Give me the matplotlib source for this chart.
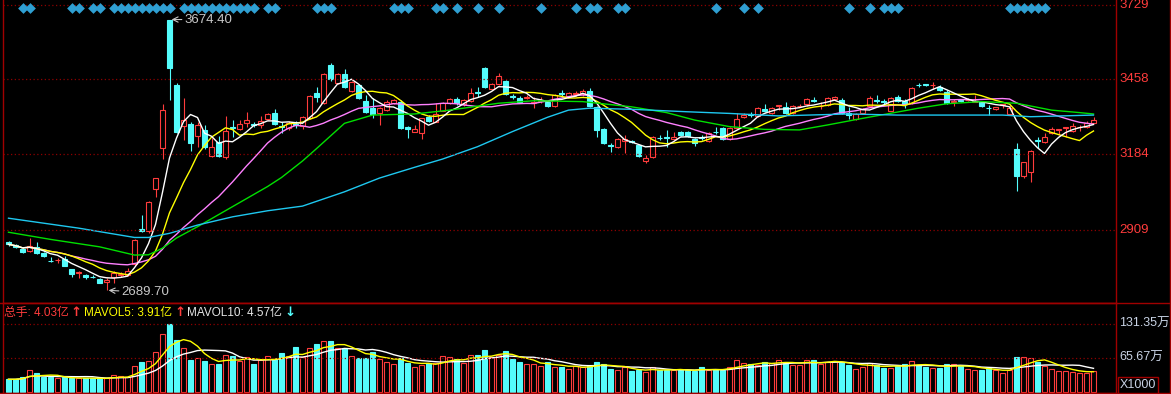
import matplotlib
matplotlib.use("Agg")
import matplotlib.pyplot as plt
import numpy as np
import pandas as pd
from matplotlib.lines import Line2D

plt.rcParams['font.family'] = ['Liberation Sans', 'Noto Sans CJK SC', 'DejaVu Sans']

# daily candles (index data)
opens = [2866, 2855, 2840, 2832, 2848, 2824, 2797, 2799, 2803, 2767,
         2754, 2745, 2740, 2731, 2720, 2737, 2745, 2745, 2784, 2912,
         2906, 3059, 3206, 3674, 3436, 3287, 3295, 3252, 3273, 3179,
         3228, 3176, 3283, 3275, 3297, 3293, 3291, 3312, 3333, 3286,
         3279, 3295, 3287, 3315, 3406, 3370, 3509, 3443, 3476, 3416,
         3436, 3378, 3354, 3336, 3346, 3370, 3376, 3285, 3267, 3261,
         3319, 3303, 3343, 3372, 3384, 3367, 3379, 3410, 3497, 3423,
         3440, 3450, 3398, 3388, 3390, 3371, 3378, 3376, 3361, 3408,
         3396, 3404, 3402, 3414, 3356, 3275, 3217, 3212, 3233, 3233,
         3218, 3160, 3173, 3245, 3246, 3239, 3265, 3265, 3241, 3246,
         3234, 3267, 3279, 3239, 3279, 3321, 3331, 3325, 3350, 3336,
         3360, 3357, 3333, 3359, 3366, 3381, 3359, 3364, 3384, 3382,
         3336, 3312, 3333, 3361, 3381, 3379, 3343, 3392, 3379, 3370,
         3437, 3440, 3435, 3430, 3412, 3375, 3381, 3381, 3375, 3373,
         3353, 3349, 3365, 3330, 3204, 3105, 3121, 3236, 3230, 3261,
         3273, 3281, 3270, 3282, 3283, 3299]
highs = [2870, 2860, 2846, 2880, 2867, 2830, 2812, 2808, 2815, 2769,
         2759, 2748, 2745, 2735, 2733, 2761, 2755, 2770, 2876, 2963,
         3014, 3100, 3367, 3674.4, 3445, 3388, 3303, 3303, 3291, 3243,
         3251, 3324, 3309, 3309, 3339, 3300, 3325, 3335, 3349, 3303,
         3305, 3305, 3322, 3400, 3428, 3480, 3517, 3480, 3493, 3452,
         3440, 3400, 3388, 3358, 3382, 3386, 3380, 3288, 3291, 3318,
         3326, 3370, 3376, 3390, 3394, 3386, 3424, 3430, 3502, 3444,
         3479, 3455, 3405, 3395, 3400, 3392, 3392, 3380, 3404, 3418,
         3412, 3415, 3420, 3424, 3360, 3280, 3227, 3245, 3255, 3238,
         3222, 3182, 3252, 3255, 3273, 3267, 3270, 3269, 3245, 3255,
         3267, 3285, 3283, 3283, 3333, 3333, 3338, 3358, 3367, 3358,
         3363, 3373, 3364, 3366, 3390, 3393, 3375, 3392, 3398, 3390,
         3357, 3334, 3352, 3396, 3400, 3384, 3392, 3400, 3385, 3428,
         3445, 3441, 3448, 3436, 3418, 3387, 3386, 3388, 3400, 3376,
         3364, 3358, 3368, 3364, 3227, 3158, 3199, 3248, 3261, 3283,
         3277, 3285, 3297, 3291, 3305, 3319]
lows = [2852, 2843, 2824, 2828, 2822, 2812, 2794, 2788, 2777, 2739,
        2733, 2730, 2735, 2716, 2689.7, 2718, 2740, 2742, 2778, 2902,
        2897, 3030, 3166, 3382, 3262, 3236, 3197, 3212, 3205, 3176,
        3176, 3166, 3248, 3271, 3285, 3285, 3280, 3308, 3292, 3263,
        3272, 3280, 3275, 3312, 3376, 3366, 3452, 3440, 3427, 3412,
        3384, 3336, 3315, 3291, 3342, 3366, 3276, 3243, 3265, 3239,
        3302, 3300, 3340, 3368, 3364, 3360, 3375, 3394, 3424, 3420,
        3436, 3400, 3387, 3370, 3386, 3354, 3372, 3358, 3358, 3394,
        3392, 3397, 3398, 3357, 3248, 3220, 3194, 3208, 3188, 3224,
        3175, 3152, 3170, 3238, 3212, 3236, 3250, 3248, 3215, 3235,
        3230, 3257, 3237, 3236, 3276, 3316, 3320, 3321, 3339, 3332,
        3346, 3330, 3330, 3355, 3360, 3375, 3348, 3360, 3380, 3330,
        3312, 3309, 3330, 3358, 3372, 3369, 3340, 3376, 3353, 3366,
        3428, 3431, 3421, 3413, 3367, 3360, 3375, 3377, 3374, 3355,
        3327, 3346, 3352, 3327, 3052, 3097, 3084, 3206, 3224, 3258,
        3255, 3248, 3266, 3270, 3280, 3297]
closes = [2857, 2847, 2829, 2852, 2824, 2815, 2795, 2801, 2779, 2749,
          2758, 2737, 2737, 2718, 2727, 2752, 2749, 2760, 2873, 2905,
          3011, 3097, 3345, 3497, 3267, 3309, 3227, 3291, 3212, 3211,
          3179, 3269, 3279, 3295, 3308, 3290, 3306, 3330, 3295, 3283,
          3297, 3292, 3319, 3396, 3394, 3476, 3457, 3476, 3430, 3448,
          3388, 3339, 3331, 3354, 3376, 3382, 3279, 3275, 3275, 3315,
          3307, 3331, 3370, 3384, 3372, 3382, 3408, 3406, 3428, 3440,
          3469, 3404, 3394, 3373, 3393, 3373, 3380, 3361, 3400, 3405,
          3406, 3406, 3414, 3360, 3273, 3224, 3214, 3239, 3239, 3230,
          3179, 3170, 3248, 3242, 3243, 3248, 3255, 3252, 3224, 3244,
          3261, 3265, 3240, 3279, 3312, 3327, 3329, 3354, 3343, 3354,
          3362, 3333, 3360, 3361, 3384, 3379, 3361, 3388, 3394, 3333,
          3327, 3331, 3348, 3388, 3379, 3373, 3388, 3379, 3366, 3424,
          3435, 3437, 3437, 3418, 3370, 3377, 3379, 3383, 3377, 3360,
          3351, 3355, 3367, 3352, 3105, 3155, 3196, 3233, 3248, 3275,
          3276, 3284, 3287, 3284, 3299, 3309]
# volume, unit: 万手 x1000
volumes = [24.5, 24.5, 28.3, 42.5, 36.0, 28.3, 28.3, 26.4, 28.3, 26.4,
           26.4, 26.4, 26.4, 26.4, 26.4, 32.2, 30.9, 28.3, 50.2, 57.9,
           59.2, 77.9, 112.0, 131.35, 100.4, 84.3, 61.8, 65.0, 59.9, 54.1,
           54.1, 71.4, 69.5, 59.9, 66.9, 54.1, 61.8, 69.5, 63.1, 75.9,
           69.5, 86.9, 66.9, 84.3, 92.0, 98.5, 98.5, 84.3, 84.3, 69.5,
           66.3, 66.3, 77.2, 63.1, 57.9, 54.1, 65.0, 56.6, 48.3, 52.1,
           55.3, 55.3, 69.5, 67.6, 63.1, 55.3, 71.4, 71.4, 81.1, 66.9,
           71.4, 79.2, 63.7, 57.9, 54.1, 54.1, 50.2, 57.9, 48.3, 48.3,
           44.4, 50.2, 47.6, 52.1, 57.9, 54.1, 44.4, 42.5, 47.6, 40.6,
           42.5, 38.6, 47.6, 42.5, 42.5, 42.5, 42.5, 42.5, 40.6, 48.3,
           42.5, 42.5, 42.5, 48.3, 61.8, 56.0, 54.1, 52.1, 57.9, 55.3,
           61.8, 57.9, 52.1, 52.1, 61.8, 61.8, 54.1, 57.9, 59.9, 57.9,
           52.1, 44.4, 48.3, 55.3, 52.1, 47.0, 46.3, 50.2, 54.1, 59.9,
           52.1, 48.3, 46.3, 47.0, 54.1, 54.1, 50.2, 44.4, 42.5, 42.5,
           46.3, 42.5, 36.7, 42.5, 67.6, 67.6, 66.0, 58.0, 51.0, 45.0,
           41.5, 41.2, 39.0, 37.5, 37.5, 40.3]

# long moving averages (history before the window is not shown)
ma30_idx = [0, 6, 13, 18, 20, 22, 24, 27, 32, 37, 39, 42, 44, 48, 52, 58, 63, 70,
            75, 82, 89, 94, 98, 103, 108, 113, 117, 122, 127, 130, 134, 139, 144,
            146, 149, 153, 155]
ma30_val = [2901, 2875, 2848, 2818, 2819, 2843, 2880, 2921, 2994, 3067, 3100, 3160,
            3205, 3297, 3327, 3331, 3345, 3370, 3379, 3376, 3357, 3336, 3309, 3285,
            3275, 3273, 3291, 3315, 3338, 3352, 3368, 3376, 3370, 3360, 3345, 3336, 3331]
ma60_idx = [0, 10, 18, 20, 23, 27, 32, 37, 42, 48, 53, 58, 62, 67, 72, 77, 80, 83,
            89, 97, 103, 110, 120, 127, 142, 146, 155]
ma60_val = [2952, 2916, 2882, 2882, 2897, 2927, 2957, 2979, 2996, 3048, 3098, 3137,
            3167, 3212, 3267, 3319, 3345, 3352, 3348, 3339, 3333, 3324, 3331, 3327,
            3327, 3321, 3327]

# blue diamond signals along the top
signal_idx = [2, 3, 9, 10, 12, 13, 15, 16, 17, 18, 19, 20, 21, 22, 23,
              25, 26, 27, 28, 29, 30, 31, 32, 33, 34, 35, 37, 38, 44, 45, 46,
              55, 56, 57, 61, 62, 64, 67, 70, 76, 81, 83, 84, 87, 88,
              101, 105, 107, 120, 123, 125, 126, 127, 143, 144, 145, 146, 147, 148]

price_ticks = [3729, 3458, 3184, 2909]

RED = '#ff3c3c'
CYAN = '#54fcfc'
GRID = '#8c0000'
FRAME = '#a00000'
LABEL = '#c8d2e4'

W, H = 1171, 394
fig = plt.figure(figsize=(W / 100, H / 100), dpi=100, facecolor='black')
ax = fig.add_axes([3 / W, 1 - 303 / H, 1113 / W, 303 / H], facecolor='black')
axv = fig.add_axes([3 / W, 1 / H, 1113 / W, 90 / H], facecolor='black', sharex=ax)

x = np.arange(len(closes))
o, h, l, c = (np.array(a, dtype=float) for a in (opens, highs, lows, closes))
up = c >= o
top = np.maximum(o, c)
bot = np.minimum(o, c)
cols = np.where(up, RED, CYAN)
faces = np.where(up, 'black', CYAN)

# candles
ax.vlines(x, top, h, colors=cols, lw=0.8)
ax.vlines(x, l, bot, colors=cols, lw=0.8)
ax.bar(x, np.maximum(top - bot, 0.8), bottom=bot, width=0.7,
       color=faces, edgecolor=cols, linewidth=0.8)

# moving averages
s = pd.Series(closes, dtype=float)
for n, col in ((20, '#ff80ff'), (10, '#ffff00'), (5, 'white')):
    ax.plot(x, s.rolling(n, min_periods=1).mean(), color=col, lw=1)
ax.plot(ma30_idx, ma30_val, color='#00e000', lw=1)
ax.plot(ma60_idx, ma60_val, color='#1ec8f0', lw=1)

# grid + right labels
for p in price_ticks:
    ax.axhline(p, color=GRID, lw=0.9, ls=(0, (1, 2)))
    ax.text(1.003, p, str(p), transform=ax.get_yaxis_transform(), color=RED,
            fontsize=9.5, va='center', ha='left')

# signals
ax.scatter(signal_idx, np.full(len(signal_idx), 1 - 8 / 303), marker='D', s=30,
           color='#2f9fd2', linewidths=0, transform=ax.get_xaxis_transform(), zorder=5)

# high / low marks
ih, il = int(np.argmax(h)), int(np.argmin(l))
arrow = dict(arrowstyle='->', color='#c8c8c8', lw=0.8, shrinkA=0, shrinkB=0)
ax.annotate(f'{h[ih]:.2f}', xy=(ih + 0.3, h[ih]), xytext=(13, 0), textcoords='offset pixels',
            color='#c8c8c8', fontsize=9.5, va='center', ha='left', arrowprops=arrow)
ax.annotate(f'{l[il]:.2f}', xy=(il + 0.3, l[il]), xytext=(13, -2), textcoords='offset pixels',
            color='#c8c8c8', fontsize=9.5, va='center', ha='left', arrowprops=arrow)

ax.set_xlim((3 - 8.5) / 7, (1116 - 8.5) / 7)
ax.set_ylim(3745.4 - 3.636 * 303, 3745.4)

# volume panel
v = np.array(volumes)
axv.bar(x, v, width=0.7, color=faces, edgecolor=cols, linewidth=0.8)
sv = pd.Series(v)
mv5 = sv.rolling(5, min_periods=1).mean()
mv10 = sv.rolling(10, min_periods=1).mean()
axv.plot(x, mv10, color='white', lw=1)
axv.plot(x, mv5, color='#ffff00', lw=1)
vmax = v.max()
for lv in (vmax, vmax / 2):
    axv.axhline(lv, color=GRID, lw=0.9, ls=(0, (1, 2)))
    axv.text(1.003, lv, f'{lv:.2f}万', transform=axv.get_yaxis_transform(), color=LABEL,
             fontsize=9, va='center', ha='left')
axv.set_ylim(-1.93, 171.9)

parts = [(f'总手: {v[-1] / 10:.2f}亿', RED, 8.5, 'normal'), ('↑', RED, 9.5, 'bold'),
         (f'MAVOL5: {mv5.iloc[-1] / 10:.2f}亿', '#ffff00', 8.5, 'normal'), ('↑', RED, 9.5, 'bold'),
         (f'MAVOL10: {mv10.iloc[-1] / 10:.2f}亿', '#e6e6e6', 8.5, 'normal'), ('↓', CYAN, 9.5, 'bold')]
t = axv.text(0.001, (393 - 313) / 90, parts[0][0], color=parts[0][1], fontsize=parts[0][2],
             transform=axv.transAxes, va='center', ha='left')
for txt, col, fs, wt in parts[1:]:
    t = axv.annotate(txt, xy=(1, 0.5), xycoords=t, xytext=(2, 0), textcoords='offset pixels',
                     color=col, fontsize=fs, fontweight=wt, va='center', ha='left',
                     family=['DejaVu Sans'] if wt == 'bold' else None)

fig.text(1120 / W, 1 - 385 / H, 'X1000', color=LABEL, fontsize=9, va='center', ha='left',
         bbox=dict(boxstyle='square,pad=0.15', fc='black', ec=FRAME, lw=1))

for a in (ax, axv):
    a.set_xticks([])
    a.set_yticks([])
    for sp in a.spines.values():
        sp.set_color(FRAME)
        sp.set_linewidth(1)
ax.spines['top'].set_visible(False)

fig.add_artist(Line2D([1169.5 / W] * 2, [0, 1], color=FRAME, lw=1, transform=fig.transFigure))
fig.add_artist(Line2D([0, 1], [1 - 303 / H] * 2, color=FRAME, lw=1, transform=fig.transFigure))
fig.add_artist(Line2D([0, 1], [1 - 393 / H] * 2, color=FRAME, lw=1, transform=fig.transFigure))

fig.savefig('out.png', dpi=100, facecolor='black')
